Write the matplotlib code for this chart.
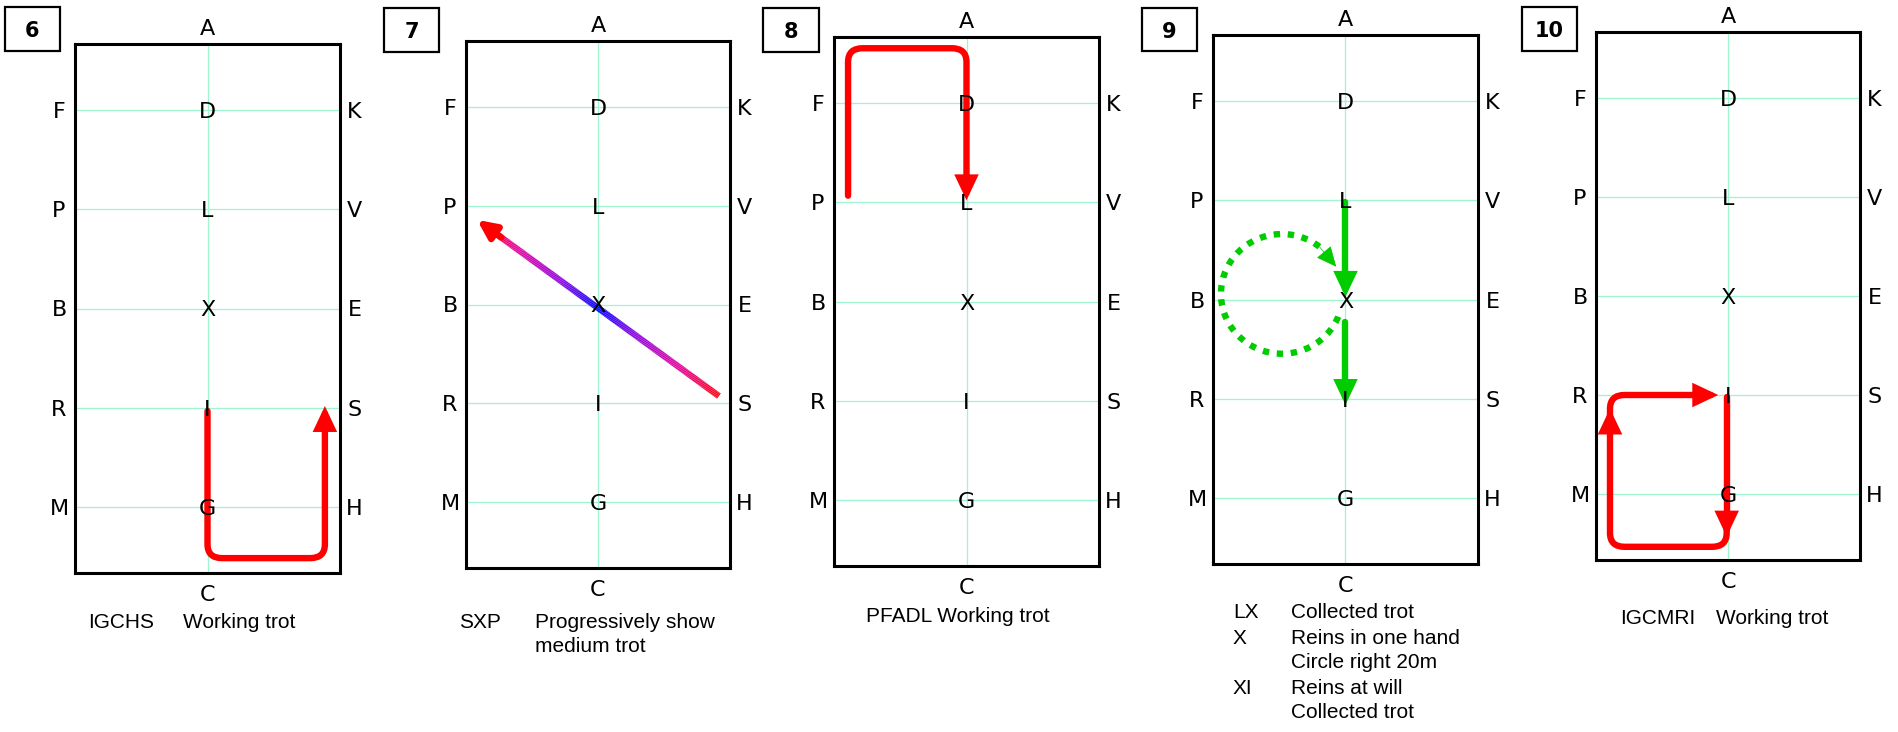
import matplotlib
matplotlib.use("Agg")
import matplotlib.pyplot as plt
from matplotlib.patches import FancyArrowPatch, Arc, Rectangle, ArrowStyle
from matplotlib.path import Path
from matplotlib.collections import LineCollection
from matplotlib.colors import LinearSegmentedColormap
import numpy as np

W, H = 1899, 732

# arena markers, bottom (C end) to top (A end)
left_letters = ['M', 'R', 'B', 'P', 'F']
centre_letters = ['G', 'I', 'X', 'L', 'D']
right_letters = ['H', 'S', 'E', 'V', 'K']
marker_y = [2, 5, 8, 11, 14]
arena_w, arena_h = 10, 16

numbers = ['6', '7', '8', '9', '10']

# routes in arena units (x across 0-10, y along 0-16)
route6 = [(5.0, 4.9), (5.0, 0.45), (9.43, 0.45), (9.43, 5.05)]
route7 = [(9.58, 5.22), (0.42, 10.57)]
route8 = [(0.53, 11.2), (0.53, 15.66), (5.0, 15.66), (5.0, 11.06)]
route9_a = [(5.0, 10.96), (5.0, 8.08)]
route9_b = [(5.0, 7.32), (5.0, 4.81)]
circle9_centre = (2.6, 8.17)
circle9_radii = (2.3, 1.81)
circle9_span = (52, 344)     # dotted part, parameter angle
circle9_tip = 27
route10_a = [(4.95, 4.95), (4.95, 0.71)]
route10_b = [(4.95, 0.95), (4.95, 0.40), (0.53, 0.40), (0.53, 4.59)]
route10_c = [(0.53, 4.3), (0.53, 5.0), (4.63, 5.0)]

# captions: (left x px, centre y px, text)
captions = [
    [(88, 620, 'IGCHS'), (183, 620, 'Working trot')],
    [(459, 620, 'SXP'), (535, 620, 'Progressively show'), (535, 644, 'medium trot')],
    [(866, 614, 'PFADL Working trot')],
    [(1233, 611, 'LX'), (1291, 611, 'Collected trot'),
     (1233, 636, 'X'), (1291, 636, 'Reins in one hand'),
     (1291, 661, 'Circle right 20m'),
     (1233, 686, 'XI'), (1291, 686, 'Reins at will'),
     (1291, 711, 'Collected trot')],
    [(1620, 617, 'IGCMRI'), (1716, 617, 'Working trot')],
]

# layout in pixels: arena rectangles (l, t, r, b) and number boxes
rects = [(75, 44, 340, 573), (466, 41, 730, 568), (834, 37, 1099, 566),
         (1213, 35, 1478, 564), (1596, 32, 1860, 560)]
boxes = [(5, 7, 60, 51), (384, 8, 439, 52), (763, 8, 819, 52),
         (1142, 8, 1197, 51), (1522, 7, 1577, 51)]

RED = '#ff0000'
GREEN = '#00cc00'
GRID = '#9ff5d0'
LW = 4.6
HEAD = ArrowStyle('-|>', head_length=11, head_width=5.2)
grad_cmap = LinearSegmentedColormap.from_list(
    'grad', [(0, '#0000ff'), (0.3, '#8a00e0'), (0.65, '#e000a0'), (1, '#ff0010')])


def rounded(points, rx=0.55, ry=0.42):
    # polyline with quadratic rounded corners
    verts = [points[0]]
    codes = [Path.MOVETO]
    for k in range(1, len(points) - 1):
        p, c, n = np.array(points[k - 1]), np.array(points[k]), np.array(points[k + 1])
        d_in = np.sign(c - p)
        d_out = np.sign(n - c)
        a = c - d_in * np.array([rx, ry])
        b = c + d_out * np.array([rx, ry])
        verts += [tuple(a), tuple(c), tuple(b)]
        codes += [Path.LINETO, Path.CURVE3, Path.CURVE3]
    verts.append(points[-1])
    codes.append(Path.LINETO)
    return Path(verts, codes)


def arrow(ax, points, color):
    ax.add_patch(FancyArrowPatch(path=rounded(points), arrowstyle=HEAD, mutation_scale=1,
                                 lw=LW, color=color, joinstyle='miter', zorder=3))


fig = plt.figure(figsize=(W / 100, H / 100), dpi=100)
axes = []
for i, (l, t, r, b) in enumerate(rects):
    ax = fig.add_axes([l / W, 1 - b / H, (r - l) / W, (b - t) / H])
    ax.set_xlim(0, arena_w)
    ax.set_ylim(0, arena_h)
    ax.set_xticks([])
    ax.set_yticks([])
    for s in ax.spines.values():
        s.set_linewidth(2.2)
        s.set_zorder(6)
    for y in marker_y:
        ax.axhline(y, color=GRID, lw=0.9, zorder=0)
    ax.axvline(arena_w / 2, color=GRID, lw=0.9, zorder=0)

    lkw = dict(fontsize=16, family='DejaVu Sans', va='center_baseline', ha='center',
               textcoords='offset points', annotation_clip=False, zorder=5)
    for y, lt, ct, rt in zip(marker_y, left_letters, centre_letters, right_letters):
        ax.annotate(lt, (0, y), xytext=(-11.5, 0), **lkw)
        ax.annotate(ct, (arena_w / 2, y), xytext=(0, 0), **lkw)
        ax.annotate(rt, (arena_w, y), xytext=(10.5, 0), **lkw)
    ax.annotate('A', (arena_w / 2, arena_h), xytext=(0, 12.5), **lkw)
    ax.annotate('C', (arena_w / 2, 0), xytext=(0, -14.5), **lkw)
    axes.append(ax)

    bl, bt, br, bb = boxes[i]
    fig.add_artist(Rectangle((bl / W, 1 - bb / H), (br - bl) / W, (bb - bt) / H,
                             transform=fig.transFigure, fill=False, lw=1.6, ec='black'))
    fig.text((bl + br) / 2 / W, 1 - (bt + bb) / 2 / H, numbers[i], fontsize=15,
             fontweight='bold', family='DejaVu Sans', ha='center', va='center_baseline')

    for x, y, txt in captions[i]:
        fig.text(x / W, 1 - y / H, txt, fontsize=15, family='Liberation Sans',
                 ha='left', va='center_baseline')

# 6: IGCHS
arrow(axes[0], route6, RED)

# 7: SXP with colour gradient through X
p0, p1 = np.array(route7[0]), np.array(route7[1])
t = np.linspace(0, 0.93, 240)
pts = p0 + np.outer(t, p1 - p0)
segs = np.stack([pts[:-1], pts[1:]], axis=1)
tm = (t[:-1] + t[1:]) / 2
lc = LineCollection(segs, cmap=grad_cmap, norm=plt.Normalize(0, 1), linewidths=LW,
                    capstyle='butt', zorder=3)
lc.set_array(np.abs(2 * tm - 1))
axes[1].add_collection(lc)
axes[1].add_patch(FancyArrowPatch(posA=tuple(p0 + 0.9 * (p1 - p0)), posB=tuple(p1),
                                  arrowstyle=HEAD, mutation_scale=1, lw=LW, color=RED,
                                  shrinkA=0, shrinkB=0, zorder=3))

# 8: PFADL
arrow(axes[2], route8, RED)

# 9: LX, circle at X, XI
arrow(axes[3], route9_a, GREEN)
arrow(axes[3], route9_b, GREEN)
cx, cy = circle9_centre
rx, ry = circle9_radii


def geo_angle(th):
    th = np.deg2rad(th)
    return np.rad2deg(np.arctan2(ry * np.sin(th), rx * np.cos(th))) % 360


axes[3].add_patch(Arc(circle9_centre, 2 * rx, 2 * ry, theta1=geo_angle(circle9_span[0]),
                      theta2=geo_angle(circle9_span[1]), lw=LW, color=GREEN,
                      linestyle=(0, (1.0, 1.2)), zorder=3))
th0, th1 = np.deg2rad(circle9_span[0]), np.deg2rad(circle9_tip)
axes[3].add_patch(FancyArrowPatch(posA=(cx + rx * np.cos(th0), cy + ry * np.sin(th0)),
                                  posB=(cx + rx * np.cos(th1), cy + ry * np.sin(th1)),
                                  arrowstyle=ArrowStyle('-|>', head_length=13, head_width=6),
                                  mutation_scale=1, lw=0.5, color=GREEN,
                                  shrinkA=0, shrinkB=0, zorder=3))

# 10: IGCMRI
arrow(axes[4], route10_a, RED)
arrow(axes[4], route10_b, RED)
arrow(axes[4], route10_c, RED)

fig.savefig('out.png', dpi=100)
